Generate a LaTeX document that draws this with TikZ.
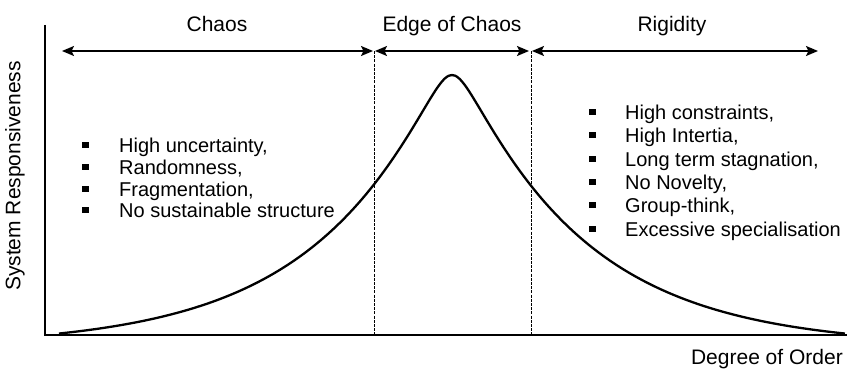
\documentclass[tikz,border=0pt]{standalone}
\usepackage{fontspec}
\setmainfont{Liberation Sans}
\usetikzlibrary{arrows.meta}
\newcommand\sqbul{\rule[4.5pt]{6.5pt}{6.5pt}}
\begin{document}
\begin{tikzpicture}[x=1pt,y=-1pt,
  axis/.style={line width=2.4pt},
  span/.style={line width=2pt,{Stealth[length=12pt,width=10pt,inset=2.5pt]}-{Stealth[length=12pt,width=10pt,inset=2.5pt]}},
  divider/.style={line width=0.9pt,dash pattern=on 3pt off 1.2pt},
  head/.style={font=\fontsize{21}{25}\selectfont,inner sep=0pt,anchor=base},
  item/.style={font=\fontsize{20}{24}\selectfont,inner sep=0pt,anchor=base west},
  curve/.style={line width=2.3pt,line join=round}]
\useasboundingbox (0,0) rectangle (847,374);
% axes
\coordinate (O) at (45,335);
\coordinate (ytop) at (45,25);
\coordinate (xend) at (847,335);
\draw[axis] (ytop) -- (O) -- (xend);
% region boundaries
\coordinate (a0) at (62,51);
\coordinate (a1) at (373,51);
\coordinate (b0) at (375,51);
\coordinate (b1) at (529,51);
\coordinate (c0) at (532,51);
\coordinate (c1) at (818,51);
\coordinate (d1t) at (374,51);
\coordinate (d1b) at (374,335);
\coordinate (d2t) at (531,51);
\coordinate (d2b) at (531,335);
\draw[divider] (d1t) -- (d1b);
\draw[divider] (d2t) -- (d2b);
\draw[span] (a0) -- (a1);
\draw[span] (b0) -- (b1);
\draw[span] (c0) -- (c1);
% headers
\node[head] (chaos) at (217,32) {Chaos};
\node[head] (edge) at (452,32) {Edge of Chaos};
\node[head] (rigid) at (672,32) {Rigidity};
% axis labels
\node[font=\fontsize{21}{25}\selectfont,inner sep=0pt,rotate=90] (ylab) at (15,176) {System Responsiveness};
\node[font=\fontsize{21}{25}\selectfont,inner sep=0pt,anchor=base east] (xlab) at (843,365) {Degree of Order};
% curve (x in hundreds of px from the peak)
\draw[curve] plot[domain=-3.93:3.93,samples=241,smooth]
  ({452+100*\x},{335-260*(exp(-(sqrt(\x*\x+0.0225)-0.15)/1.25)-0.0431)/0.957});
% left list
\node[item] (l1) at (82,153) {\makebox[37pt][l]{\sqbul}High uncertainty,};
\node[item] (l2) at (82,175) {\makebox[37pt][l]{\sqbul}Randomness,};
\node[item] (l3) at (82,197) {\makebox[37pt][l]{\sqbul}Fragmentation,};
\node[item] (l4) at (82,218) {\makebox[37pt][l]{\sqbul}No sustainable structure};
% right list
\node[item] (r1) at (589,120) {\makebox[36pt][l]{\sqbul}High constraints,};
\node[item] (r2) at (589,143) {\makebox[36pt][l]{\sqbul}High Intertia,};
\node[item] (r3) at (589,167) {\makebox[36pt][l]{\sqbul}Long term stagnation,};
\node[item] (r4) at (589,190) {\makebox[36pt][l]{\sqbul}No Novelty,};
\node[item] (r5) at (589,213) {\makebox[36pt][l]{\sqbul}Group-think,};
\node[item] (r6) at (589,237) {\makebox[36pt][l]{\sqbul}Excessive specialisation};
\end{tikzpicture}
\end{document}
